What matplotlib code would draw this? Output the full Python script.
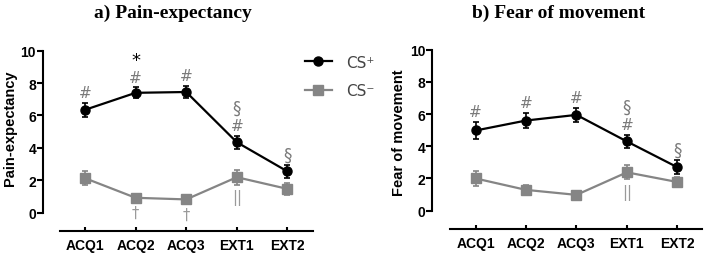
import numpy as np
import matplotlib.pyplot as plt

# Data
phases = ["ACQ1", "ACQ2", "ACQ3", "EXT1", "EXT2"]

pain_csp = [6.35, 7.40, 7.45, 4.35, 2.55]
pain_csp_err = [0.45, 0.33, 0.36, 0.39, 0.41]
pain_csm = [2.13, 0.92, 0.82, 2.19, 1.47]
pain_csm_err = [0.42, 0.15, 0.15, 0.47, 0.35]

fear_csp = [4.98, 5.60, 5.95, 4.30, 2.70]
fear_csp_err = [0.54, 0.45, 0.45, 0.41, 0.42]
fear_csm = [2.00, 1.29, 0.98, 2.38, 1.78]
fear_csm_err = [0.45, 0.30, 0.15, 0.44, 0.28]

# significance marks, stacked from the point upwards (CS+) / downwards (CS-)
pain_marks_csp = [["#"], ["#", "*"], ["#"], ["#", "§"], ["§"]]
pain_marks_csm = [[], ["†"], ["†"], ["||"], []]
fear_marks_csp = [["#"], ["#"], ["#"], ["#", "§"], ["§"]]
fear_marks_csm = [[], [], [], ["||"], []]

W, H = 707, 255
fig = plt.figure(figsize=(W / 100, H / 100), dpi=100)

mark_gray = "#7a7a7a"
mark_size = {"#": 11, "*": 13, "§": 12}
mark_step = {"#": 11.5, "*": 12.5, "§": 13}


def draw_panel(rect, xlim, ylim, csp, csp_err, csm, csm_err,
               marks_p, marks_m, ylabel, label_xy):
    ax = fig.add_axes(rect)
    x = np.arange(len(phases))
    ax.errorbar(x, csp, yerr=csp_err, color="black", lw=1.6, marker="o",
                ms=6.5, capsize=2, elinewidth=1.2, capthick=1.2,
                label="CS⁺", zorder=3)
    ax.errorbar(x, csm, yerr=csm_err, color="#858585", lw=1.6, marker="s",
                ms=6.5, capsize=2, elinewidth=1.2, capthick=1.2,
                label="CS⁻", zorder=2)

    for i in range(len(phases)):
        top = csp[i] + csp_err[i]
        off = 7.5
        for j, m in enumerate(marks_p[i]):
            if j > 0:
                off += mark_step[m]
            col = "black" if m == "*" else mark_gray
            ax.annotate(m, (x[i], top), xytext=(0, off),
                        textcoords="offset points", ha="center", va="center",
                        fontsize=mark_size[m], color=col,
                        annotation_clip=False)
        bot = csm[i] - csm_err[i]
        for m in marks_m[i]:
            ax.annotate(m, (x[i], bot), xytext=(0, -9),
                        textcoords="offset points", ha="center", va="center",
                        fontsize=10.5, color="#9a9a9a", annotation_clip=False)

    ax.set_xlim(*xlim)
    ax.set_ylim(*ylim)
    ax.spines["top"].set_visible(False)
    ax.spines["right"].set_visible(False)
    ax.spines["left"].set_bounds(0, 10)
    ax.spines["bottom"].set_bounds(-0.5, 4.5)
    for s in ("left", "bottom"):
        ax.spines[s].set_linewidth(1.5)
    ax.set_yticks([0, 2, 4, 6, 8, 10])
    ax.set_xticks(x)
    ax.set_xticklabels(phases)
    ax.tick_params(axis="y", direction="out", length=4, width=1.5, pad=1,
                   labelsize=10)
    ax.tick_params(axis="x", direction="in", length=3, width=1.5, pad=5,
                   labelsize=10)
    for lab in ax.get_xticklabels() + ax.get_yticklabels():
        lab.set_fontweight("bold")
        lab.set_fontfamily("Liberation Sans")
    ax.set_ylabel(ylabel, fontsize=10.5, fontweight="bold",
                  fontfamily="Liberation Sans")
    ax.yaxis.set_label_coords(*label_xy)
    ax.patch.set_alpha(0)
    return ax


ax1 = draw_panel([43 / W, 23 / H, 270 / W, 180.3 / H], (-0.83, 4.506),
                 (-1.13, 10), pain_csp, pain_csp_err, pain_csm, pain_csm_err,
                 pain_marks_csp, pain_marks_csm, "Pain-expectancy",
                 (-0.098, 0.577))
ax2 = draw_panel([432.3 / W, 25 / H, 271.7 / W, 179.3 / H], (-0.86, 4.53),
                 (-1.14, 10), fear_csp, fear_csp_err, fear_csm, fear_csm_err,
                 fear_marks_csp, fear_marks_csm, "Fear of movement",
                 (-0.095, 0.544))

fig.text(173 / W, 1 - 13 / H, "a) Pain-expectancy", ha="center", va="center",
         fontsize=14, fontweight="bold", fontfamily="Liberation Serif")
fig.text(559 / W, 1 - 13 / H, "b) Fear of movement", ha="center", va="center",
         fontsize=14, fontweight="bold", fontfamily="Liberation Serif")

handles, labels = ax1.get_legend_handles_labels()
handles = [h[0] for h in handles]  # plain line+marker, no error bars
leg = fig.legend(handles, labels, loc="upper left",
                 bbox_to_anchor=(297 / W, 1 - 48 / H), frameon=False,
                 borderpad=0, handlelength=1.8, handletextpad=0.9,
                 labelspacing=0.9, prop={"family": "DejaVu Sans", "size": 11})
for t in leg.get_texts():
    t.set_color("#444444")

fig.savefig("out.png", dpi=100)
